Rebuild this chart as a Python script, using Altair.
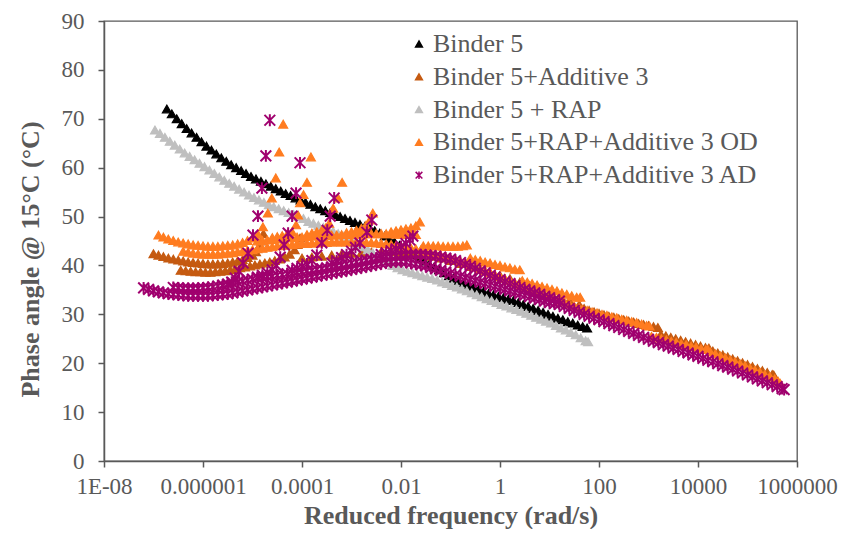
import altair as alt
import pandas as pd

# ---------------- data (log10 of reduced frequency, phase angle in degrees) ----------------
names = ["Binder 5", "Binder 5+Additive 3", "Binder 5 + RAP",
         "Binder 5+RAP+Additive 3 OD", "Binder 5+RAP+Additive 3 AD"]
colors = ["#000000", "#C55A11", "#BFBFBF", "#FF7C20", "#A0006E"]
marker_kind = ["tri", "tri", "tri", "tri", "ast"]

tick_values = [1e-8, 1e-6, 1e-4, 1e-2, 1, 100, 10000, 1000000]
tick_labels = ["1E-08", "0.000001", "0.0001", "0.01", "1", "100", "10000", "1000000"]
y_ticks = [0, 10, 20, 30, 40, 50, 60, 70, 80, 90]

b5 = [[-6.73,72.0],[-6.63,71.0],[-6.53,70.0],[-6.43,69.0],[-6.33,68.0],[-6.23,67.1],[-6.13,66.2],[-6.03,65.3],
      [-5.93,64.4],[-5.83,63.6],[-5.73,62.8],[-5.63,62.0],[-5.53,61.3],[-5.43,60.6],[-5.33,60.0],[-5.23,59.4],
      [-5.13,58.8],[-5.03,58.2],[-4.93,57.7],[-4.83,57.2],[-4.73,56.7],[-4.63,56.2],[-4.53,55.7],[-4.43,55.2],
      [-4.33,54.7],[-4.23,54.3],[-4.13,53.8],[-4.03,53.4],[-3.93,52.9],[-3.83,52.5],[-3.73,52.0],[-3.63,51.6],
      [-3.53,51.2],[-3.43,50.8],[-3.33,50.4],[-3.23,50.0],[-3.13,49.6],[-3.03,49.2],[-2.93,48.8],[-2.83,48.4],
      [-2.73,48.0],[-2.63,47.6],[-2.53,47.1],[-2.43,46.6],[-2.33,46.0],[-2.23,45.4],[-2.13,44.8],[-2.03,44.1],
      [-1.93,43.5],[-1.83,42.8],[-1.73,42.2],[-1.63,41.5],[-1.53,40.9],[-1.43,40.3],[-1.33,39.7],[-1.23,39.1],
      [-1.13,38.5],[-1.03,37.9],[-0.93,37.4],[-0.83,36.9],[-0.73,36.4],[-0.63,35.9],[-0.53,35.5],[-0.43,35.1],
      [-0.33,34.7],[-0.23,34.3],[-0.13,34.0],[-0.03,33.7],[0.07,33.4],[0.17,33.1],[0.27,32.8],[0.37,32.4],
      [0.47,32.0],[0.57,31.6],[0.67,31.2],[0.77,30.8],[0.87,30.4],[0.97,30.0],[1.07,29.6],[1.17,29.2],
      [1.27,28.9],[1.37,28.5],[1.47,28.2],[1.57,27.8],[1.67,27.5],[1.76,27.2]]

add3_a = [[-7.0,42.4],[-6.9,42.1],[-6.8,41.8],[-6.7,41.5],[-6.6,41.3],[-6.5,41.1],[-6.4,40.9],[-6.3,40.7],
          [-6.2,40.6],[-6.1,40.5],[-6.0,40.4],[-5.9,40.3],[-5.8,40.3],[-5.7,40.3],[-5.6,40.4],[-5.5,40.5],
          [-5.4,40.7],[-5.3,40.9],[-5.2,41.2],[-5.1,41.6],[-5.0,42.1],[-4.93,42.8],[-4.87,43.8],[-4.82,45.0],
          [-4.78,46.5]]
add3_b = [[-6.45,39.0],[-6.35,38.9],[-6.25,38.8],[-6.15,38.7],[-6.05,38.7],[-5.95,38.6],[-5.85,38.6],
          [-5.75,38.7],[-5.65,38.8],[-5.55,38.9],[-5.45,39.1],[-5.35,39.3],[-5.25,39.5],[-5.15,39.7],
          [-5.05,39.9],[-4.95,40.1],[-4.85,40.3],[-4.75,40.5],[-4.65,40.7],[-4.55,41.0],[-4.45,41.3],
          [-4.35,41.7],[-4.25,42.3],[-4.15,43.2],[-4.09,44.3],[-4.04,45.6]]
add3_c = [[-4.0,41.5],[-3.8,41.7],[-3.6,41.9],[-3.4,42.1],[-3.2,42.3],[-3.0,42.5],[-2.8,42.6],[-2.6,42.7],
          [-2.4,42.8],[-2.2,42.8],[-2.0,42.7],[-1.8,42.5],[-1.6,42.2],[-1.4,41.9],[-1.2,41.5],[-1.0,41.0],
          [-0.8,40.4],[-0.6,39.8],[-0.4,39.2],[-0.2,38.6],[0.0,38.0],[0.2,37.3],[0.4,36.6],[0.6,35.9],
          [0.8,35.2],[1.0,34.4],[1.2,33.7],[1.4,32.9],[1.6,32.0]]
add3_d = [[1.7,31.2],[1.8,30.8],[1.9,30.5],[2.0,30.2],[2.1,29.9],[2.2,29.6],[2.3,29.4],[2.4,29.1],
          [2.5,28.9],[2.6,28.6],[2.7,28.4],[2.8,28.1],[2.9,27.9],[3.0,27.7],[3.1,27.5],[3.19,27.3],
          [3.25,25.9],[3.35,25.6],[3.45,25.3],[3.55,25.0],[3.65,24.7],[3.75,24.4],[3.85,24.1],[3.95,23.8],
          [4.05,23.5],[4.15,23.2],[4.22,23.1],[4.3,22.5],[4.4,22.1],[4.5,21.7],[4.6,21.3],[4.7,20.9],
          [4.8,20.5],[4.9,20.1],[5.0,19.7],[5.1,19.3],[5.2,18.9],[5.3,18.5],[5.4,18.1],[5.5,17.7],[5.53,17.6]]

rap = [[-6.97,67.7],[-6.87,67.0],[-6.77,66.2],[-6.67,65.4],[-6.57,64.6],[-6.47,63.8],[-6.37,63.0],[-6.27,62.3],
       [-6.17,61.6],[-6.07,60.9],[-5.97,60.2],[-5.87,59.5],[-5.77,58.8],[-5.67,58.1],[-5.57,57.4],[-5.47,56.8],
       [-5.37,56.2],[-5.27,55.6],[-5.17,55.0],[-5.07,54.4],[-4.97,53.9],[-4.87,53.4],[-4.77,52.9],[-4.67,52.4],
       [-4.57,52.0],[-4.47,51.6],[-4.37,51.2],[-4.27,50.8],[-4.17,50.4],[-4.07,50.0],[-3.97,49.6],[-3.87,49.0],
       [-3.77,48.6],[-3.67,48.2],[-3.57,47.8],[-3.47,47.4],[-3.37,47.0],[-3.27,46.5],[-3.17,46.0],[-3.07,45.5],
       [-2.97,45.0],[-2.87,44.4],[-2.77,43.8],[-2.67,43.2],[-2.57,42.6],[-2.47,42.0],[-2.37,41.3],[-2.27,40.6],
       [-2.17,40.0],[-2.07,39.5],[-1.97,39.1],[-1.87,38.8],[-1.77,38.5],[-1.67,38.2],[-1.57,37.9],[-1.47,37.6],
       [-1.37,37.3],[-1.27,37.0],[-1.17,36.6],[-1.07,36.3],[-0.97,35.9],[-0.87,35.6],[-0.77,35.2],[-0.67,34.8],
       [-0.57,34.4],[-0.47,34.0],[-0.37,33.6],[-0.27,33.2],[-0.17,32.8],[-0.07,32.4],[0.03,32.0],[0.13,31.7],
       [0.23,31.3],[0.33,31.0],[0.43,30.6],[0.53,30.2],[0.63,29.8],[0.73,29.4],[0.83,29.0],[0.93,28.6],
       [1.03,28.2],[1.13,27.7],[1.23,27.2],[1.33,26.8],[1.43,26.3],[1.53,25.8],[1.63,25.2],[1.73,24.6],[1.78,24.4]]

od_top1 = [[-6.9,46.2],[-6.8,45.8],[-6.7,45.4],[-6.6,45.1],[-6.5,44.8],[-6.4,44.6],[-6.3,44.4],[-6.2,44.2],
           [-6.1,44.1],[-6.0,44.0],[-5.9,43.9],[-5.8,43.9],[-5.7,43.9],[-5.6,44.0],[-5.5,44.1],[-5.4,44.2],
           [-5.3,44.4],[-5.2,44.7],[-5.1,45.1],[-5.0,45.6],[-4.89,46.4],[-4.79,47.9],[-4.69,50.7],[-4.61,53.8],
           [-4.53,57.9],[-4.46,63.2],[-4.38,68.9]]
od_mid = [[-4.9,45.0],[-4.8,45.1],[-4.7,45.2],[-4.6,45.3],[-4.5,45.4],[-4.4,45.5],[-4.3,45.6],[-4.2,45.7],
          [-4.1,45.8],[-4.0,45.8],[-3.9,45.9],[-3.8,46.0],[-3.7,46.0],[-3.6,46.1],[-3.5,46.1],[-3.4,46.2],
          [-3.3,46.2],[-3.2,46.3],[-3.1,46.3],[-3.0,46.4],[-2.9,46.4],[-2.8,46.4],[-2.7,46.5],[-2.6,46.5],
          [-2.5,46.5],[-2.4,46.5],[-2.3,46.5],[-2.2,46.5],[-2.1,46.4],[-2.0,46.4],[-1.9,46.4],[-1.8,46.3],[-1.7,46.3]]
od_low = [[-6.4,42.9],[-6.3,42.7],[-6.2,42.5],[-6.1,42.4],[-6.0,42.3],[-5.9,42.3],[-5.8,42.3],[-5.7,42.3],
          [-5.6,42.4],[-5.5,42.5],[-5.4,42.6],[-5.3,42.8],[-5.2,42.9],[-5.1,43.1],[-5.0,43.2],[-4.9,43.4],
          [-4.8,43.5],[-4.7,43.7],[-4.6,43.8],[-4.5,44.0],[-4.4,44.1],[-4.3,44.2],[-4.2,44.3],[-4.1,44.4],
          [-4.0,44.5],[-3.9,44.5],[-3.8,44.6],[-3.7,44.6],[-3.6,44.7],[-3.5,44.7],[-3.4,44.8],[-3.3,44.8],
          [-3.2,44.8],[-3.1,44.8],[-3.0,44.8],[-2.9,44.8],[-2.8,44.8],[-2.7,44.7],[-2.6,44.7],[-2.5,44.6],
          [-2.4,44.5],[-2.3,44.4],[-2.2,44.3],[-2.1,44.1],[-2.0,44.0],[-1.9,43.8],[-1.8,43.6],[-1.7,43.4],
          [-1.6,43.2],[-1.5,42.9],[-1.4,42.7],[-1.3,42.4],[-1.2,42.1],[-1.1,41.8],[-1.0,41.5],[-0.9,41.2],
          [-0.8,40.9],[-0.7,40.5],[-0.6,40.1],[-0.5,39.7],[-0.4,39.3],[-0.3,38.9],[-0.2,38.5],[-0.1,38.1],
          [0.0,37.7],[0.1,37.3],[0.2,36.9],[0.3,36.5],[0.4,36.1],[0.5,35.7],[0.6,35.3],[0.7,34.9],
          [0.8,34.5],[0.9,34.1],[1.0,33.7],[1.1,33.3],[1.2,32.9],[1.3,32.5],[1.4,32.1],[1.5,31.7],[1.6,31.3]]
od_spike2 = [[-4.6,45.7],[-4.5,45.9],[-4.4,46.1],[-4.3,46.4],[-4.2,46.9],[-4.12,48.3],[-4.08,50.3],
             [-4.04,52.8],[-3.97,54.5],[-3.9,57.0],[-3.82,62.2]]
od_spike3 = [[-3.9,46.3],[-3.8,46.6],[-3.7,46.9],[-3.6,47.2],[-3.52,47.7],[-3.45,48.6],[-3.37,51.7],
             [-3.27,53.8],[-3.19,57.0]]
od_spike4 = [[-3.1,46.7],[-3.0,46.9],[-2.9,47.2],[-2.8,47.6],[-2.71,48.2],[-2.63,49.3],[-2.57,50.7]]
od_spike5 = [[-2.2,46.9],[-2.1,47.1],[-2.0,47.3],[-1.9,47.5],[-1.8,47.7],[-1.7,48.1],[-1.62,48.9]]
od_steps = [[-1.55,44.0],[-1.45,44.0],[-1.35,44.0],[-1.25,44.0],[-1.15,43.9],[-1.05,43.9],[-0.95,43.9],
            [-0.85,43.9],[-0.75,44.0],[-0.67,44.2],
            [-0.6,41.5],[-0.5,41.2],[-0.4,41.0],[-0.3,40.7],[-0.2,40.5],[-0.1,40.2],[0.0,40.0],[0.1,39.7],
            [0.2,39.5],[0.3,39.2],[0.4,39.1],
            [0.45,36.9],[0.55,36.6],[0.65,36.3],[0.75,36.0],[0.85,35.7],[0.95,35.4],[1.05,35.1],[1.15,34.8],
            [1.25,34.4],[1.35,34.1],[1.45,33.8],[1.55,33.5],[1.62,33.5],
            [1.66,31.0],[1.76,30.8],[1.86,30.5],[1.96,30.3],[2.06,30.0],[2.16,29.8],[2.26,29.5],[2.36,29.3],
            [2.46,29.0],[2.56,28.8],[2.66,28.5],[2.76,28.3],[2.86,28.0],[2.96,27.7],[3.02,27.6],
            [3.06,25.5],[3.16,25.3],[3.26,25.0],[3.36,24.8],[3.46,24.5],[3.56,24.3],[3.66,24.0],[3.76,23.8],
            [3.86,23.5],[3.96,23.3],[4.06,23.0],[4.16,22.8],[4.2,22.8],
            [4.25,22.3],[4.35,21.9],[4.45,21.5],[4.55,21.1],[4.65,20.7],[4.75,20.3],[4.85,19.9],[4.95,19.5],
            [5.05,19.0],[5.15,18.6],[5.25,18.2],[5.35,17.7],[5.45,17.3],[5.55,16.8],[5.62,16.3],[5.66,15.9]]

ad_low = [[-7.2,35.4],[-7.1,35.1],[-7.0,34.8],[-6.9,34.6],[-6.8,34.4],[-6.7,34.2],[-6.6,34.1],[-6.5,34.0],
          [-6.4,33.9],[-6.3,33.8],[-6.2,33.8],[-6.1,33.8],[-6.0,33.8],[-5.9,33.8],[-5.8,33.9],[-5.7,34.0],
          [-5.6,34.1],[-5.5,34.2],[-5.4,34.4],[-5.3,34.6],[-5.2,34.8],[-5.1,35.0],[-5.0,35.2],[-4.9,35.4],
          [-4.8,35.6],[-4.7,35.8],[-4.6,36.0],[-4.5,36.2],[-4.4,36.4],[-4.3,36.6],[-4.2,36.8],[-4.1,37.0],
          [-4.0,37.2],[-3.9,37.4],[-3.8,37.6],[-3.7,37.8],[-3.6,38.0],[-3.5,38.2],[-3.4,38.4],[-3.3,38.6],
          [-3.2,38.8],[-3.1,39.0],[-3.0,39.2],[-2.9,39.4],[-2.8,39.6],[-2.7,39.8],[-2.6,40.0],[-2.5,40.2],
          [-2.4,40.4],[-2.3,40.6],[-2.2,40.7],[-2.1,40.8],[-2.0,40.8],[-1.9,40.7],[-1.8,40.5],[-1.7,40.3],
          [-1.6,40.1],[-1.5,39.9],[-1.4,39.6],[-1.3,39.3],[-1.2,39.0],[-1.1,38.7],[-1.0,38.4],[-0.9,38.1],
          [-0.8,37.8],[-0.7,37.5],[-0.6,37.2],[-0.5,36.9],[-0.4,36.6],[-0.3,36.3],[-0.2,36.0],[-0.1,35.7],
          [0.0,35.4],[0.1,35.1],[0.2,34.8],[0.3,34.5],[0.4,34.2],[0.5,33.9],[0.6,33.6],[0.7,33.3],
          [0.8,33.0],[0.9,32.7],[1.0,32.4],[1.1,32.2],[1.2,32.0],[1.3,31.6],[1.4,31.2],[1.5,30.8],
          [1.6,30.4],[1.7,30.0],[1.8,29.6],[1.9,29.2],[2.0,28.9],[2.1,28.5],[2.2,28.1],[2.3,27.7],
          [2.4,27.3],[2.5,26.9],[2.6,26.5],[2.7,26.1],[2.8,25.7],[2.9,25.3],[3.0,24.9],[3.1,24.5],
          [3.2,24.2],[3.3,23.8],[3.4,23.5],[3.5,23.1],[3.6,22.8],[3.7,22.4],[3.8,22.1],[3.9,21.7],
          [4.0,21.4],[4.1,21.0],[4.2,20.6],[4.3,20.3],[4.4,19.9],[4.5,19.5],[4.6,19.2],[4.7,18.8],
          [4.8,18.4],[4.9,18.0],[5.0,17.6],[5.1,17.2],[5.2,16.8],[5.3,16.4],[5.4,16.0],[5.5,15.6],
          [5.6,15.2],[5.7,14.8],[5.74,14.6]]
ad_up = [[-6.6,35.5],[-6.5,35.4],[-6.4,35.3],[-6.3,35.3],[-6.2,35.3],[-6.1,35.3],[-6.0,35.4],[-5.9,35.5],
         [-5.8,35.6],[-5.7,35.8],[-5.6,36.0],[-5.5,36.2],[-5.4,36.4],[-5.3,36.6],[-5.2,36.8],[-5.1,37.0],
         [-5.0,37.2],[-4.9,37.4],[-4.8,37.5],[-4.7,37.7],[-4.6,37.8],[-4.5,38.0],[-4.4,38.1],[-4.3,38.3],
         [-4.2,38.4],[-4.1,38.6],[-4.0,38.7],[-3.9,38.9],[-3.8,39.0],[-3.7,39.2],[-3.6,39.3],[-3.5,39.5],
         [-3.4,39.7],[-3.3,39.9],[-3.2,40.1],[-3.1,40.3],[-3.0,40.5],[-2.9,40.7],[-2.8,40.9],[-2.7,41.1],
         [-2.6,41.3],[-2.5,41.5],[-2.4,41.6],[-2.3,41.8],[-2.2,41.9],[-2.1,42.0],[-2.0,42.1],[-1.9,42.2],
         [-1.8,42.2],[-1.7,42.2],[-1.6,42.2],[-1.5,42.1],[-1.4,42.0],[-1.3,41.9],[-1.2,41.7],[-1.1,41.5],
         [-1.0,41.3],[-0.9,41.0],[-0.8,40.6],[-0.7,40.2],[-0.6,39.8],[-0.5,39.4],[-0.4,38.9],[-0.3,38.5],
         [-0.2,38.0],[-0.1,37.6],[0.0,37.1],[0.1,36.7],[0.2,36.3],[0.3,35.9],[0.4,35.5],[0.5,35.1],
         [0.6,34.8],[0.7,34.4],[0.8,34.1],[0.9,33.7],[1.0,33.4],[1.1,33.0],[1.2,32.7]]
ad_spike1 = [[-5.6,35.8],[-5.5,36.1],[-5.42,36.6],[-5.35,37.4],[-5.27,38.8],[-5.19,40.5],[-5.09,42.5],
             [-4.99,46.2],[-4.89,50.1],[-4.81,55.8],[-4.73,62.4],[-4.65,69.7]]
ad_spike2 = [[-4.9,37.6],[-4.8,38.0],[-4.7,38.5],[-4.6,39.1],[-4.52,40.0],[-4.44,41.7],[-4.36,44.2],
             [-4.28,46.6],[-4.2,50.1],[-4.12,54.8],[-4.04,61.0]]
ad_spike3 = [[-4.2,39.0],[-4.1,39.4],[-4.0,39.8],[-3.9,40.3],[-3.8,41.0],[-3.7,42.1],[-3.6,44.6],
             [-3.49,47.2],[-3.43,50.1],[-3.35,53.8]]
ad_spike4 = [[-3.4,40.5],[-3.3,41.0],[-3.2,41.6],[-3.1,42.2],[-3.0,42.9],[-2.92,43.7],[-2.83,44.6],
             [-2.69,46.8],[-2.59,49.3]]
ad_spike5 = [[-2.4,42.2],[-2.3,42.6],[-2.2,43.0],[-2.1,43.4],[-2.0,43.9],[-1.9,44.5],[-1.82,45.2],[-1.76,46.0]]

series_segments = [
    (names[0], [b5]),
    (names[1], [add3_a, add3_b, add3_c, add3_d]),
    (names[2], [rap]),
    (names[3], [od_low, od_top1, od_mid, od_spike2, od_spike3, od_spike4, od_spike5, od_steps]),
    (names[4], [ad_low, ad_up, ad_spike1, ad_spike2, ad_spike3, ad_spike4, ad_spike5]),
]

rows = []
order = 0
for idx, (name, segs) in enumerate(series_segments):
    for seg in segs:
        for e, v in seg:
            rows.append({"series": name, "mk": marker_kind[idx], "freq": 10 ** e, "phase": v, "order": order})
            order += 1
df = pd.DataFrame(rows)

# label expression built from the tick arrays
expr = "'" + tick_labels[-1] + "'"
for val, lab in reversed(list(zip(tick_values[:-1], tick_labels[:-1]))):
    expr = f"datum.value < {val * 3} ? '{lab}' : " + expr

asterisk = "M-1,-1L1,1M-1,1L1,-1M0,-1.1L0,1.1"
shapes = ["triangle-up"] * 4 + [asterisk]
FONT = "Liberation Serif"
GRAY = "#595959"

legend = alt.Legend(title=None, orient="none", legendX=302, legendY=10, padding=0,
                    labelFont=FONT, labelFontSize=26, labelColor=GRAY, labelOffset=1,
                    labelLimit=600, symbolSize=45, symbolStrokeWidth=1.5, rowPadding=6.8)

chart = alt.Chart(df).mark_point(filled=True, opacity=1).encode(
    x=alt.X("freq:Q",
            scale=alt.Scale(type="log", domain=[1e-8, 1e6], nice=False),
            axis=alt.Axis(values=tick_values, labelExpr=expr, title="Reduced frequency (rad/s)",
                          titleY=62, titleBaseline="alphabetic", labelPadding=8,
                          labelFlush=False, labelOverlap=False)),
    y=alt.Y("phase:Q",
            scale=alt.Scale(domain=[0, 90], nice=False),
            axis=alt.Axis(values=y_ticks, title="Phase angle @ 15°C (°C)",
                          titleX=-74, titleY=238, titleBaseline="middle", titleAngle=-90,
                          labelPadding=14)),
    fill=alt.Fill("series:N", scale=alt.Scale(domain=names, range=colors), legend=legend),
    stroke=alt.Stroke("series:N", scale=alt.Scale(domain=names, range=colors), legend=legend),
    shape=alt.Shape("series:N", scale=alt.Scale(domain=names, range=shapes), legend=legend),
    size=alt.Size("mk:N", scale=alt.Scale(domain=["tri", "ast"], range=[80, 115]), legend=None),
    strokeWidth=alt.StrokeWidth("mk:N", scale=alt.Scale(domain=["tri", "ast"], range=[1.2, 2]),
                                legend=None),
    order=alt.Order("order:Q"),
).properties(
    width=693, height=440,
    padding={"left": 96, "top": 13, "right": 45, "bottom": 68},
    autosize=alt.AutoSizeParams(type="none"),
).configure(
    font=FONT
).configure_view(
    stroke=GRAY, strokeWidth=1.3
).configure_axis(
    labelFont=FONT, labelFontSize=23, labelColor=GRAY,
    titleFont=FONT, titleFontSize=26, titleFontWeight="bold", titleColor=GRAY,
    domainColor=GRAY, domainWidth=1.5, tickColor=GRAY, tickWidth=1.5, tickSize=6, grid=False,
).configure_legend(
    labelFont=FONT, labelFontSize=26, labelColor=GRAY,
)

chart.save("out.html", embed_options={"renderer": "svg", "actions": False})
